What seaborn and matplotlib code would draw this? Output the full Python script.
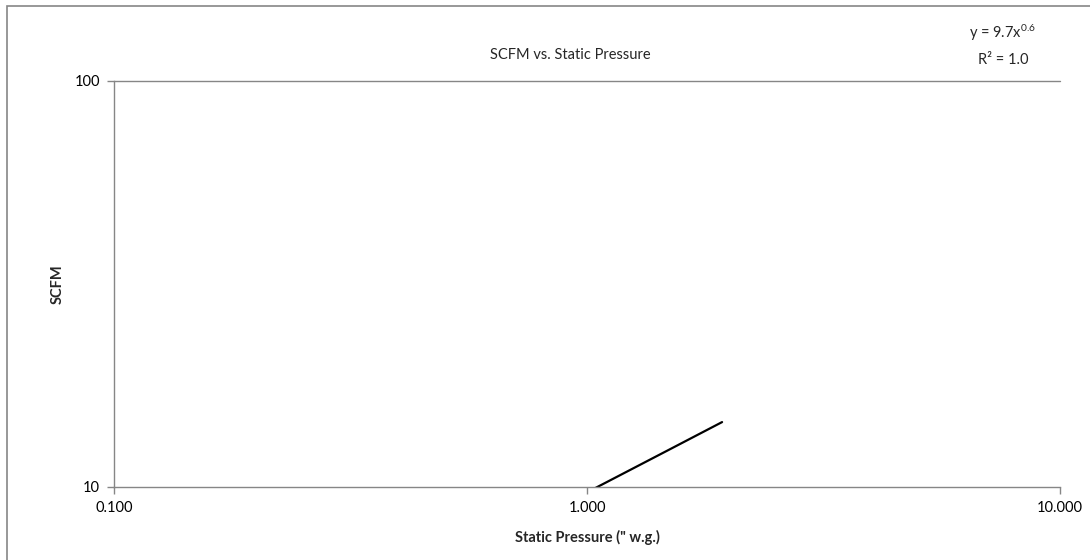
import numpy as np
import pandas as pd
import matplotlib
matplotlib.use('Agg')
import matplotlib.pyplot as plt
import matplotlib.ticker as mticker
from matplotlib.patches import Rectangle
import seaborn as sns

# values (power trend y = 9.7x^0.6)
pressure = [1.0, 1.5, 1.93]
scfm = [9.7, 12.4, 14.45]
x_ticks = [0.1, 1, 10]
x_tick_labels = ['0.100', '1.000', '10.000']
y_ticks = [10, 100]
y_tick_labels = ['10', '100']

df = pd.DataFrame({'Static Pressure': pressure, 'SCFM': scfm})

sns.set_style('white')
plt.rcParams['font.family'] = ['Lato', 'DejaVu Sans']
plt.rcParams['mathtext.fontset'] = 'custom'
plt.rcParams['mathtext.rm'] = 'Lato'
plt.rcParams['mathtext.it'] = 'Lato'
grey = '#868686'

fig = plt.figure(figsize=(10.9, 5.6), dpi=100)
ax = fig.add_axes([114/1090, 1-487/560, (1060-114)/1090, (487-81)/560])

sns.lineplot(data=df, x='Static Pressure', y='SCFM', color='black', linewidth=1.6, ax=ax)

ax.set_xscale('log')
ax.set_yscale('log')
ax.set_xlim(0.1, 10)
ax.set_ylim(10, 100)
ax.xaxis.set_major_locator(mticker.FixedLocator(x_ticks))
ax.xaxis.set_minor_locator(mticker.NullLocator())
ax.yaxis.set_major_locator(mticker.FixedLocator(y_ticks))
ax.yaxis.set_minor_locator(mticker.NullLocator())
ax.set_xticklabels(x_tick_labels)
ax.set_yticklabels(y_tick_labels)
ax.tick_params(axis='both', which='major', direction='out', length=5, width=1,
               color=grey, labelsize=10.5, labelcolor='black', pad=5,
               bottom=True, left=True)

for s in ['top', 'right']:
    ax.spines[s].set_visible(False)
for s in ['left', 'bottom']:
    ax.spines[s].set_color(grey)
    ax.spines[s].set_linewidth(1)
ax.axhline(100, color=grey, lw=1, clip_on=False)

ax.set_xlabel('Static Pressure (" w.g.)', fontsize=10.5, fontweight='bold', labelpad=11)
ax.set_ylabel('SCFM', fontsize=10.5, fontweight='bold', labelpad=7)

fig.text(570/1090, 1-55/560, 'SCFM vs. Static Pressure', ha='center', va='center', fontsize=10.5)
fig.text(1003/1090, 1-33/560, r'y = 9.7x$^{0.6}$', ha='center', va='center', fontsize=10.5)
fig.text(1003/1090, 1-60/560, 'R² = 1.0', ha='center', va='center', fontsize=10.5)

fig.patches.append(Rectangle((7/1090, -0.1), 1.2, 1.1 - 6/560, transform=fig.transFigure,
                             fill=False, edgecolor=grey, lw=1.2))

fig.savefig('out.png', dpi=100)
